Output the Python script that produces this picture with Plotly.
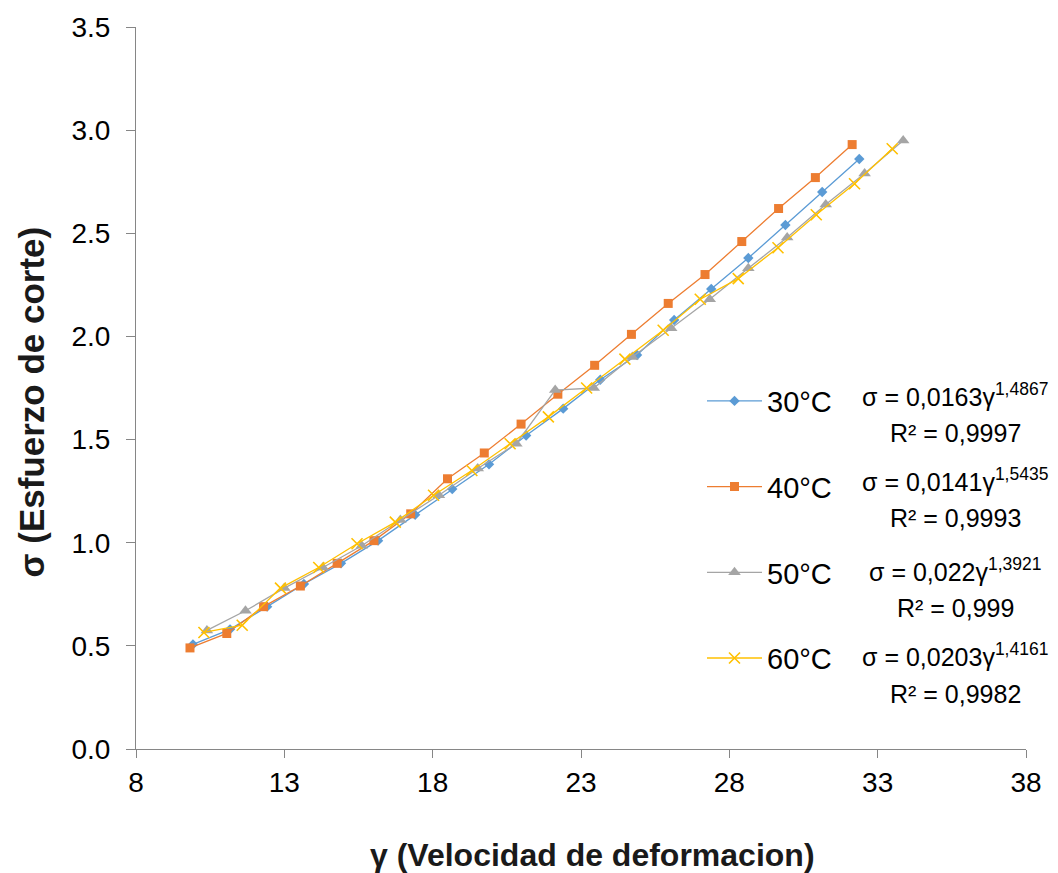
import plotly.graph_objects as go

# ---------------- data ----------------
x30 = [9.92, 11.17, 12.42, 13.66, 14.91, 16.16, 17.41, 18.66, 19.90, 21.15,
       22.40, 23.65, 24.89, 26.14, 27.39, 28.64, 29.89, 31.13, 32.38]
y30 = [0.507, 0.58, 0.69, 0.80, 0.90, 1.01, 1.135, 1.26, 1.38, 1.52,
       1.65, 1.79, 1.91, 2.08, 2.23, 2.38, 2.54, 2.70, 2.86]

x40 = [9.82, 11.06, 12.30, 13.54, 14.78, 16.02, 17.26, 18.50, 19.74, 20.98,
       22.22, 23.46, 24.70, 25.94, 27.18, 28.42, 29.66, 30.90, 32.14]
y40 = [0.49, 0.56, 0.69, 0.79, 0.90, 1.01, 1.14, 1.31, 1.435, 1.575,
       1.72, 1.86, 2.01, 2.16, 2.30, 2.46, 2.62, 2.77, 2.93]

x50 = [10.39, 11.69, 13.00, 14.30, 15.61, 16.91, 18.21, 19.52, 20.82, 22.13,
       23.43, 24.73, 26.04, 27.34, 28.64, 29.95, 31.25, 32.56, 33.86]
y50 = [0.575, 0.67, 0.78, 0.88, 0.985, 1.11, 1.23, 1.36, 1.48, 1.74,
       1.75, 1.90, 2.04, 2.18, 2.33, 2.48, 2.64, 2.79, 2.95]

x60 = [10.29, 11.58, 12.87, 14.16, 15.45, 16.74, 18.03, 19.32, 20.61, 21.90,
       23.19, 24.48, 25.77, 27.02, 28.30, 29.64, 30.93, 32.22, 33.49]
y60 = [0.565, 0.60, 0.78, 0.88, 0.995, 1.10, 1.23, 1.35, 1.48, 1.61,
       1.75, 1.89, 2.03, 2.18, 2.28, 2.43, 2.59, 2.74, 2.91]

series_names = ["30°C", "40°C", "50°C", "60°C"]
eq_coef = ["0,0163", "0,0141", "0,022", "0,0203"]
eq_exp = ["1,4867", "1,5435", "1,3921", "1,4161"]
eq_r2 = ["0,9997", "0,9993", "0,999", "0,9982"]

x_ticks = [8, 13, 18, 23, 28, 33, 38]
y_ticks = [0.0, 0.5, 1.0, 1.5, 2.0, 2.5, 3.0, 3.5]

# ---------------- styling ----------------
colors = ["#5B9BD5", "#ED7D31", "#A5A5A5", "#FFC000"]
symbols = ["diamond", "square", "triangle-up", "x-thin"]
msizes = [8, 9, 11, 11]
FONT = "Liberation Sans, Arial, sans-serif"
NARROW = "Liberation Sans Narrow, Arial Narrow, Liberation Sans, sans-serif"

W, H = 1058, 873
L, R, T, B = 136, 32, 24, 124
PW, PH = W - L - R, H - T - B


def px2paper(px, py):
    return (px - L) / PW, (H - B - py) / PH


fig = go.Figure()
xs = [x30, x40, x50, x60]
ys = [y30, y40, y50, y60]
for i in range(4):
    marker = dict(symbol=symbols[i], size=msizes[i], color=colors[i])
    if symbols[i] == "x-thin":
        marker["line"] = dict(color=colors[i], width=1.6)
    fig.add_trace(go.Scatter(
        x=xs[i], y=ys[i], mode="lines+markers", name=series_names[i],
        legendgroup=series_names[i],
        line=dict(color=colors[i], width=1.3),
        marker=marker,
    ))

# trendline equation labels (center x px, line1 y px, line2 y px)
eq_pos = [
    (955, 394, 432),
    (955, 479, 517),
    (955, 569, 607),
    (955, 655, 694),
]
for i in range(4):
    xc, y1, y2 = eq_pos[i]
    px, py = px2paper(xc, y1)
    fig.add_annotation(x=px, y=py, xref="paper", yref="paper", showarrow=False,
                       xanchor="center", yanchor="middle",
                       text=f"σ = {eq_coef[i]}γ<sup>{eq_exp[i]}</sup>",
                       font=dict(family=FONT, size=25, color="#000000"))
    px, py = px2paper(xc, y2)
    fig.add_annotation(x=px, y=py, xref="paper", yref="paper", showarrow=False,
                       xanchor="center", yanchor="middle",
                       text=f"R² = {eq_r2[i]}",
                       font=dict(family=FONT, size=25, color="#000000"))

# axis titles
px, py = px2paper(592, 855)
fig.add_annotation(x=px, y=py, xref="paper", yref="paper", showarrow=False,
                   xanchor="center", yanchor="middle",
                   text="<b>γ (Velocidad de deformacion)</b>",
                   font=dict(family=NARROW, size=32, color="#1a1a1a"))
px, py = px2paper(31, 401)
fig.add_annotation(x=px, y=py, xref="paper", yref="paper", showarrow=False,
                   xanchor="center", yanchor="middle", textangle=-90,
                   text="<b>σ (Esfuerzo de corte)</b>",
                   font=dict(family=NARROW, size=35, color="#1a1a1a"))

lx, ly = px2paper(702, 374)
fig.update_layout(
    width=W, height=H,
    margin=dict(l=L, r=R, t=T, b=B, pad=0),
    paper_bgcolor="white", plot_bgcolor="white",
    font=dict(family=FONT, color="#000000"),
    showlegend=True,
    legend=dict(x=lx, y=ly, xanchor="left", yanchor="top",
                font=dict(family=FONT, size=29, color="#000000"),
                bgcolor="rgba(0,0,0,0)", tracegroupgap=45,
                itemwidth=55),
    xaxis=dict(range=[8, 38], tickvals=x_ticks, ticktext=[str(v) for v in x_ticks],
               showgrid=False, zeroline=False, showline=True,
               linecolor="#868686", linewidth=1,
               ticks="outside", ticklen=8, tickcolor="#868686",
               tickfont=dict(family=FONT, size=28, color="#000000")),
    yaxis=dict(range=[0, 3.5], tickvals=y_ticks, ticktext=[f"{v:.1f}" for v in y_ticks],
               showgrid=False, zeroline=False, showline=True,
               linecolor="#868686", linewidth=1,
               ticks="outside", ticklen=9, tickcolor="#868686",
               ticklabelstandoff=10,
               tickfont=dict(family=FONT, size=28, color="#000000")),
)

fig.write_html("out.html")
